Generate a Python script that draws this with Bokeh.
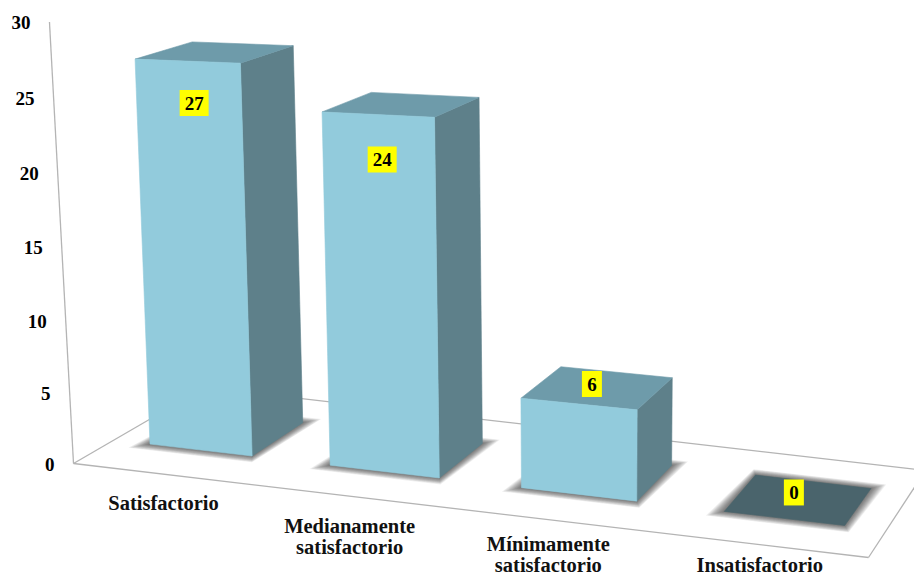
from bokeh.plotting import figure
from bokeh.embed import file_html
from bokeh.resources import INLINE
from bokeh.core.properties import value
from bokeh.models import Range1d, ColumnDataSource

# ---------- data ----------
categories = ["Satisfactorio", "Medianamente\nsatisfactorio", "Mínimamente\nsatisfactorio", "Insatisfactorio"]
values = [27, 24, 6, 0]
y_ticks = [0, 5, 10, 15, 20, 25, 30]

# ---------- colours / fonts ----------
FRONT, SIDE, TOP, FLAT = "#92CBDC", "#5E808A", "#6E9BAA", "#4A646C"
GRID = "#B4B4B4"
FONT = value("Liberation Serif")

# ---------- camera: floor homography + vertical vanishing point ----------
FL, FR, BR, BL = (73, 463), (868, 557), (925, 470), (204, 387)
VP = (590, 11800)
T = 0.001242
LENS = 0.13        # heights grow towards the right of the picture
AXIS_K = 1.006
AXIS_LEAN = 0.13

dx1, dx2, sx = FR[0]-BR[0], BL[0]-BR[0], FL[0]-FR[0]+BR[0]-BL[0]
dy1, dy2, sy = FR[1]-BR[1], BL[1]-BR[1], FL[1]-FR[1]+BR[1]-BL[1]
den = dx1*dy2 - dx2*dy1
g = (sx*dy2 - dx2*sy)/den
k = (dx1*sy - sx*dy1)/den
a, b, c = FR[0]-FL[0]+g*FR[0], BL[0]-FL[0]+k*BL[0], FL[0]
d_, e, f = FR[1]-FL[1]+g*FR[1], BL[1]-FL[1]+k*BL[1], FL[1]


def project(u, d, h=0.0):
    s = u/4
    ht = h*T*(1 + LENS*s)
    w = g*s + k*d + 1 - ht
    return ((a*s + b*d + c - ht*VP[0])/w, (d_*s + e*d + f - ht*VP[1])/w)


def axis_point(v):
    x_, y_ = project(0, 0, v*AXIS_K)
    return x_ - AXIS_LEAN*v, y_


def poly(points):
    pts = [project(*q) for q in points]
    return [q[0] for q in pts], [q[1] for q in pts]


def edges(i):
    return (0.19 + 0.927*i + 0.023*i*i, 0.73 + 0.96*i + 0.02*i*i)


D0, D1 = 0.29, 0.72

p = figure(width=914, height=580, x_range=Range1d(0, 914), y_range=Range1d(580, 0),
           toolbar_location=None, output_backend="svg", min_border=0,
           outline_line_color=None, background_fill_color="white", border_fill_color="white")
p.axis.visible = False
p.grid.visible = False

# floor and axis
for q0, q1 in [((0, 0), (4, 0)), ((4, 0), (4, 1)), ((4, 1), (0, 1)), ((0, 1), (0, 0))]:
    xs, ys = poly([q0, q1])
    p.line(xs, ys, line_color=GRID, line_width=1.3)
ax0, ax1 = axis_point(y_ticks[0]), axis_point(y_ticks[-1])
p.line([ax0[0], ax1[0]], [ax0[1], ax1[1]], line_color=GRID, line_width=1.3)

# soft shadows: many nested translucent outlines
for n in range(12, 0, -1):
    e_ = n/12
    sh_x, sh_y = [], []
    for i in range(len(values)):
        u0, u1 = edges(i)
        du, dd = 0.068*e_, 0.13*e_
        x_, y_ = poly([(u0-du, D0-dd*0.5), (u1+du*0.6, D0-dd*0.5), (u1+du*0.9, D1+dd*0.5), (u0-du*0.5, D1+dd*0.5)])
        sh_x.append(x_)
        sh_y.append(y_)
    p.patches(sh_x, sh_y, fill_color="#202020", fill_alpha=0.065, line_color=None)

# bars
fx, fy, fc = [], [], []
for i, v in enumerate(values):
    u0, u1 = edges(i)
    if v > 0:
        for pts, col in [
            ([(u1, D0, 0), (u1, D1, 0), (u1, D1, v), (u1, D0, v)], SIDE),
            ([(u0, D0, v), (u1, D0, v), (u1, D1, v), (u0, D1, v)], TOP),
            ([(u0, D0, 0), (u1, D0, 0), (u1, D0, v), (u0, D0, v)], FRONT),
        ]:
            x_, y_ = poly(pts)
            fx.append(x_); fy.append(y_); fc.append(col)
    else:
        x_, y_ = poly([(u0, D0), (u1, D0), (u1, D1), (u0, D1)])
        fx.append(x_); fy.append(y_); fc.append(FLAT)
p.patches("x", "y", fill_color="c", line_color="c", line_width=0.6,
          source=ColumnDataSource(dict(x=fx, y=fy, c=fc)))

# y tick labels
tx, ty, tt = [], [], []
for t in y_ticks:
    x_, y_ = axis_point(t)
    tx.append(x_-19); ty.append(y_+1); tt.append(str(t))
p.text(tx, ty, text=tt, text_font=FONT, text_font_style="bold", text_font_size="19px",
       text_color="black", text_align="right", text_baseline="middle")

# category labels (last line kept above the page's bottom edge)
LINE = 21
LAST_BASELINE = 564
LABEL_DX = [-7, -17, -17, -7]
cx, cy, ct = [], [], []
for i, cat in enumerate(categories):
    x_, y_ = project(i+0.5, 0)
    lines = cat.split("\n")
    base = min(y_ + 28, LAST_BASELINE - (len(lines)-1)*LINE)
    for j, line in enumerate(lines):
        cx.append(x_+LABEL_DX[i]); cy.append(base + j*LINE); ct.append(line)
p.text(cx, cy, text=ct, text_font=FONT, text_font_style="bold", text_font_size="20.5px",
       text_color="#111111", text_align="center", text_baseline="alphabetic")

# value labels
LABEL_OFFSET = [(6.5, 42), (4, 45), (13, -20), (9.5, -26)]
lx, ly, lw, lt = [], [], [], []
for i, v in enumerate(values):
    u0, u1 = edges(i)
    x_, y_ = project((u0+u1)/2, D0, v)
    lx.append(x_+LABEL_OFFSET[i][0]); ly.append(y_+LABEL_OFFSET[i][1])
    lw.append(29 if v >= 10 else 20); lt.append(str(v))
p.rect(lx, ly, width=lw, height=[26]*len(lx), fill_color="#FFFF00", line_color=None)
p.text(lx, ly, text=lt, text_font=FONT, text_font_style="bold", text_font_size="19px",
       text_color="black", text_align="center", text_baseline="middle")

open("out.html", "w").write(file_html(p, INLINE))
